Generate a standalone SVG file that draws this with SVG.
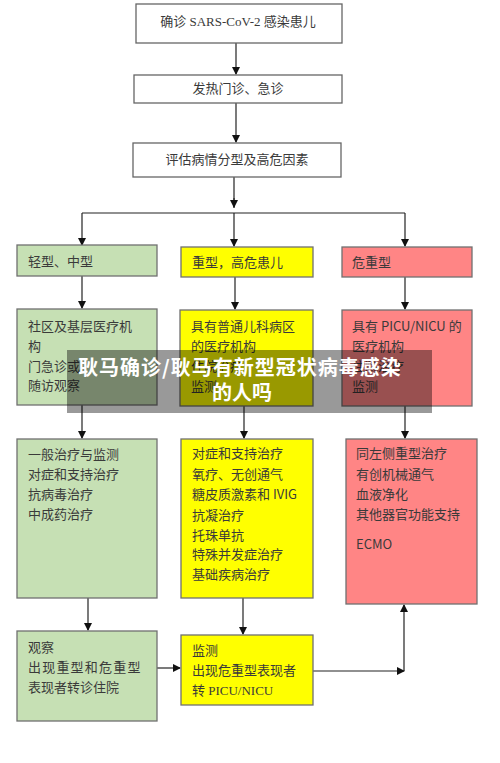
<svg xmlns="http://www.w3.org/2000/svg" width="500" height="763" viewBox="0 0 500 763">
<defs>
<marker id="ah" markerWidth="8" markerHeight="8" refX="7" refY="4" orient="auto" markerUnits="userSpaceOnUse">
<path d="M0,0 L8,4 L0,8 Z" fill="#111"/>
</marker>
<style>
.w{fill:#fff;stroke:#666;stroke-width:1.3}
.g{fill:#c6e0b4;stroke:#707070;stroke-width:1.3}
.y{fill:#ffff00;stroke:#707070;stroke-width:1.3}
.p{fill:#ff8585;stroke:#707070;stroke-width:1.3}
.t{font-family:"Noto Sans CJK SC","Liberation Sans",sans-serif;font-size:13px;fill:#3a3a3a}
.s{font-family:"Liberation Serif","Noto Sans CJK SC",serif;font-size:13px;fill:#3a3a3a}
.c{text-anchor:middle}
.l{stroke:#222;stroke-width:1.2;fill:none}
.h{font-family:"Noto Sans CJK SC","Liberation Sans",sans-serif;font-size:20px;font-weight:bold;fill:#fff;text-anchor:middle}
</style>
</defs>
<rect width="500" height="763" fill="#fff"/>

<g id="connectors">
<path class="l" d="M236,43 V74" marker-end="url(#ah)"/>
<path class="l" d="M236,103 V142" marker-end="url(#ah)"/>
<path class="l" d="M234,177 V208"/>
<path class="l" d="M234,198 V207" marker-end="url(#ah)"/>
<path class="l" d="M82,213 H405"/>
<path class="l" d="M82,213 V245" marker-end="url(#ah)"/>
<path class="l" d="M234,213 V246" marker-end="url(#ah)"/>
<path class="l" d="M405,213 V246" marker-end="url(#ah)"/>
<path class="l" d="M82,276 V308" marker-end="url(#ah)"/>
<path class="l" d="M235,277 V309" marker-end="url(#ah)"/>
<path class="l" d="M405,277 V309" marker-end="url(#ah)"/>
<path class="l" d="M82,405 V438" marker-end="url(#ah)"/>
<path class="l" d="M244,406 V438" marker-end="url(#ah)"/>
<path class="l" d="M405,406 V438" marker-end="url(#ah)"/>
<path class="l" d="M88,598 V630" marker-end="url(#ah)"/>
<path class="l" d="M243,598 V634" marker-end="url(#ah)"/>
<path class="l" d="M157,668 H180" marker-end="url(#ah)"/>
<path class="l" d="M313,671 H404" marker-end="url(#ah)"/>
<path class="l" d="M404,671 V605" marker-end="url(#ah)"/>
</g>

<g id="n-confirmed">
<rect class="w" x="136" y="4" width="206" height="39"/>
<text class="s c" x="238" y="26">确诊 SARS-CoV-2 感染患儿</text>
</g>
<g id="n-clinic">
<rect class="w" x="134" y="75" width="208" height="28"/>
<text class="t c" x="238" y="93">发热门诊、急诊</text>
</g>
<g id="n-assess">
<rect class="w" x="133" y="143" width="208" height="34"/>
<text class="t c" x="237" y="164">评估病情分型及高危因素</text>
</g>

<g id="n-mild">
<rect class="g" x="17" y="245" width="140" height="31"/>
<text class="t" x="28" y="266">轻型、中型</text>
</g>
<g id="n-severe">
<rect class="y" x="181" y="247" width="132" height="30"/>
<text class="t" x="192" y="267">重型，高危患儿</text>
</g>
<g id="n-critical">
<rect class="p" x="342" y="247" width="130" height="30"/>
<text class="t" x="352" y="267">危重型</text>
</g>

<g id="n-community">
<rect class="g" x="17" y="309" width="140" height="96"/>
<text class="t" x="28" y="331">社区及基层医疗机</text>
<text class="t" x="28" y="351">构</text>
<text class="t" x="28" y="371">门急诊或</text>
<text class="t" x="28" y="390">随访观察</text>
</g>
<g id="n-general-hosp">
<rect class="y" x="180" y="310" width="133" height="96"/>
<text class="t" x="191" y="331">具有普通儿科病区</text>
<text class="t" x="191" y="351">的医疗机构</text>
<text class="t" x="191" y="371">住院治疗</text>
<text class="t" x="191" y="391">监测</text>
</g>
<g id="n-picu">
<rect class="p" x="342" y="310" width="130" height="96"/>
<text class="t" x="352" y="331">具有 PICU/NICU 的</text>
<text class="t" x="352" y="351">医疗机构</text>
<text class="t" x="352" y="371">住院治疗</text>
<text class="t" x="352" y="391">监测</text>
</g>

<g id="n-treat-mild">
<rect class="g" x="17" y="439" width="140" height="159"/>
<text class="t" x="28" y="459">一般治疗与监测</text>
<text class="t" x="28" y="479">对症和支持治疗</text>
<text class="t" x="28" y="499">抗病毒治疗</text>
<text class="t" x="28" y="519">中成药治疗</text>
</g>
<g id="n-treat-severe">
<rect class="y" x="181" y="439" width="132" height="159"/>
<text class="t" x="192" y="458">对症和支持治疗</text>
<text class="t" x="192" y="479">氧疗、无创通气</text>
<text class="t" x="192" y="499">糖皮质激素和 IVIG</text>
<text class="t" x="192" y="520">抗凝治疗</text>
<text class="t" x="192" y="540">托珠单抗</text>
<text class="t" x="192" y="559">特殊并发症治疗</text>
<text class="t" x="192" y="579">基础疾病治疗</text>
</g>
<g id="n-treat-critical">
<rect class="p" x="346" y="439" width="131" height="165"/>
<text class="t" x="356" y="458">同左侧重型治疗</text>
<text class="t" x="356" y="479">有创机械通气</text>
<text class="t" x="356" y="499">血液净化</text>
<text class="t" x="356" y="519">其他器官功能支持</text>
<text class="t" x="356" y="549">ECMO</text>
</g>

<g id="n-observe">
<rect class="g" x="17" y="631" width="140" height="90"/>
<text class="t" x="28" y="652">观察</text>
<text class="t" x="28" y="672" letter-spacing="1.2">出现重型和危重型</text>
<text class="t" x="28" y="692">表现者转诊住院</text>
</g>
<g id="n-monitor">
<rect class="y" x="181" y="635" width="132" height="70"/>
<text class="t" x="192" y="655">监测</text>
<text class="t" x="192" y="675">出现危重型表现者</text>
<text class="s" x="192" y="695">转 PICU/NICU</text>
</g>

<g id="banner">
<rect x="67" y="350" width="365" height="63" fill="#000" fill-opacity="0.4"/>
<text class="h" x="240" y="375" letter-spacing="1">耿马确诊/耿马有新型冠状病毒感染</text>
<text class="h" x="242" y="400">的人吗</text>
</g>
</svg>
